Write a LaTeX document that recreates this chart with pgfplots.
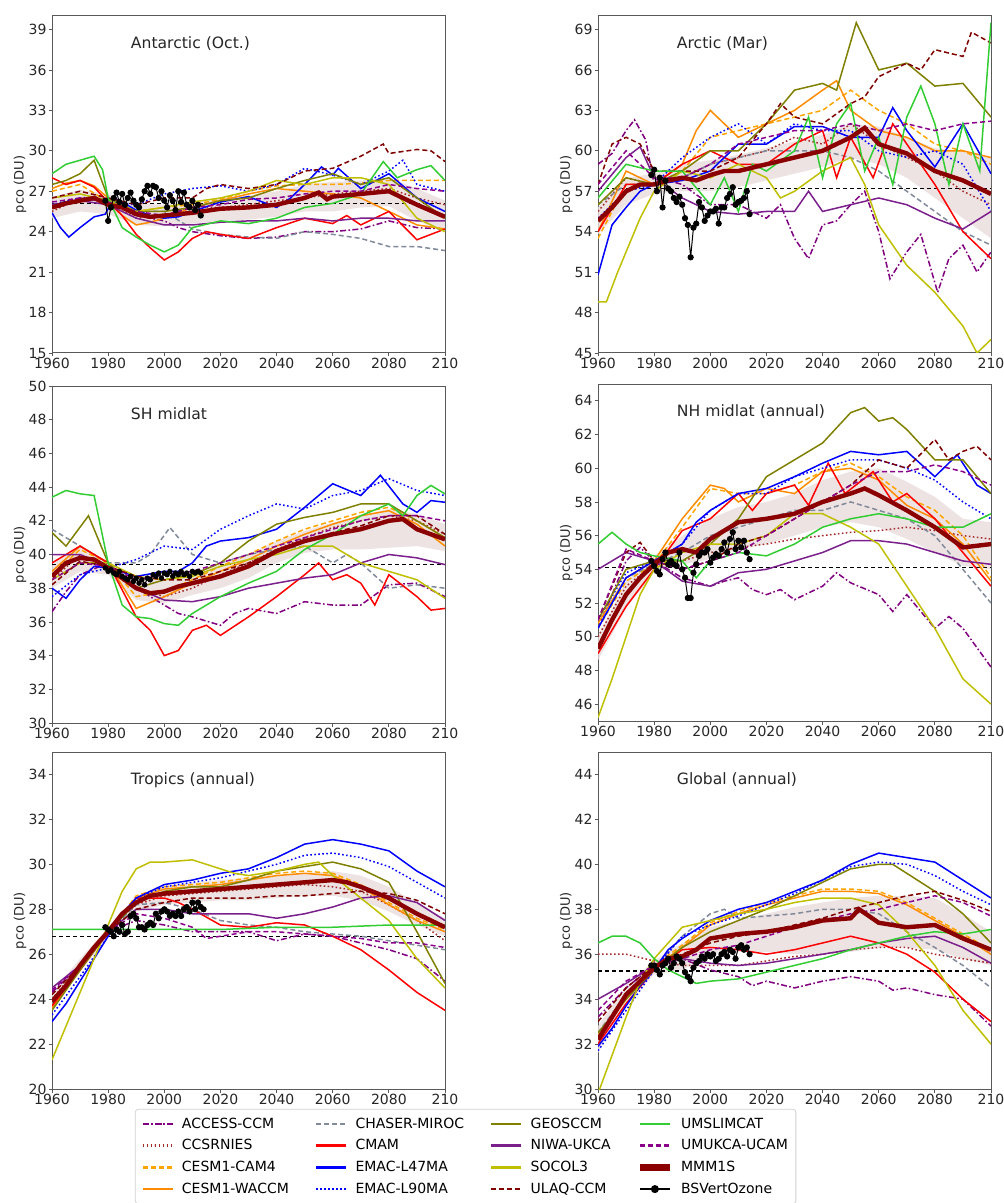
\documentclass[border=0pt]{standalone}
\usepackage{fontspec}
\setmainfont{DejaVu Sans}
\usepackage{pgfplots}
\pgfplotsset{compat=1.18}
\definecolor{mACC}{RGB}{128,0,128}
\definecolor{mCCS}{RGB}{165,42,42}
\definecolor{mCAM}{RGB}{255,165,0}
\definecolor{mWAC}{RGB}{255,140,0}
\definecolor{mCHA}{RGB}{128,138,154}
\definecolor{mCMAM}{RGB}{255,0,0}
\definecolor{mBLUE}{RGB}{0,0,255}
\definecolor{mGEOS}{RGB}{128,128,0}
\definecolor{mNIWA}{RGB}{123,31,140}
\definecolor{mSOC}{RGB}{191,191,0}
\definecolor{mULAQ}{RGB}{128,0,0}
\definecolor{mUMSL}{RGB}{50,205,50}
\definecolor{mUMUK}{RGB}{139,0,139}
\definecolor{mMMM}{RGB}{139,0,0}
\definecolor{mBAND}{RGB}{234,220,220}
\tikzset{
 ttl/.style={anchor=west, font=\fontsize{7.8}{9}\selectfont, text=black!85},
 lbase/.style={line width=0.75pt, mark=none},
 sACC/.style={lbase, color=mACC, dash pattern=on 3pt off 1.2pt on 0.8pt off 1.2pt},
 sCCS/.style={lbase, color=mCCS, dash pattern=on 0.8pt off 1.2pt},
 sCAM/.style={lbase, color=mCAM, dash pattern=on 2.5pt off 1.5pt},
 sWAC/.style={lbase, color=mWAC},
 sCHA/.style={lbase, color=mCHA, dash pattern=on 2.5pt off 1.5pt},
 sCMAM/.style={lbase, color=mCMAM},
 sL47/.style={lbase, color=mBLUE},
 sL90/.style={lbase, color=mBLUE, dash pattern=on 0.8pt off 1.2pt},
 sGEOS/.style={lbase, color=mGEOS},
 sNIWA/.style={lbase, color=mNIWA},
 sSOC/.style={lbase, color=mSOC},
 sULAQ/.style={lbase, color=mULAQ, dash pattern=on 2.5pt off 1.5pt},
 sUMSL/.style={lbase, color=mUMSL},
 sUMUK/.style={lbase, color=mUMUK, dash pattern=on 2.5pt off 1.5pt},
 sMMM/.style={color=mMMM, line width=2.2pt, mark=none},
 sOBS/.style={color=black, line width=0.5pt, mark=*, mark size=1.3pt},
 sBAND/.style={fill=mBAND, fill opacity=0.8, draw=none},
 sREF/.style={color=black, line width=0.6pt, dash pattern=on 2pt off 1.5pt},
 LW/.style={line width=1.3pt},
}
\pgfplotsset{
 panel/.style={
  scale only axis, width=196.5pt, height=168.5pt, anchor=north west,
  xmin=1960, xmax=2100, xtick={1960,1980,...,2100},
  xticklabels={1960,1980,2000,2020,2040,2060,2080,210},
  tick align=outside, tick pos=left, major tick length=1.75pt,
  every tick/.style={gray!70!black, line width=0.4pt},
  axis line style={gray!70!black, line width=0.5pt},
  ticklabel style={font=\fontsize{7}{8}\selectfont, text=black!85, inner sep=0.8pt},
  /pgf/number format/assume math mode=true,
  ylabel={pco (DU)},
  every axis y label/.style={at={(axis description cs:-0.081,0.5)}, rotate=90, anchor=center, font=\fontsize{6.5}{7}\selectfont, text=black!85},
  clip mode=individual,
 },
}
\begin{document}
\begin{tikzpicture}
% ---------------- Antarctic (Oct.)
\begin{axis}[panel, at={(26pt,-8pt)}, ymin=15, ymax=40, ytick={15,18,...,39}]
\addplot[sBAND, forget plot] coordinates {(1960,26.6)(1970,27.1)(1980,26.8)(1990,26.1)(2000,26.0)(2010,26.2)(2020,26.5)(2030,26.7)(2040,27.0)(2050,27.5)(2060,27.7)(2070,27.8)(2080,28.0)(2090,27.2)(2100,26.3)(2100,24.0)(2090,24.8)(2080,25.9)(2070,25.8)(2060,25.5)(2050,25.5)(2040,25.1)(2030,24.9)(2020,24.8)(2010,24.6)(2000,24.4)(1990,24.5)(1980,25.3)(1970,25.5)(1960,25.0)} --cycle;
\addplot[sREF, forget plot] coordinates {(1960,26.1)(2100,26.1)};
\addplot[sACC] coordinates {(1960,25.8)(1965,26.2)(1970,26.5)(1975,26.6)(1980,26.3)(1985,25.8)(1990,25.2)(1995,25.0)(2000,24.8)(2005,24.3)(2010,24.0)(2020,23.7)(2030,23.5)(2040,23.6)(2050,24.0)(2060,24.0)(2070,24.2)(2080,24.8)(2090,24.3)(2100,24.2)};
\addplot[sCCS] coordinates {(1960,25.5)(1970,26.5)(1980,26.3)(1990,25.0)(2000,25.2)(2010,25.8)(2020,25.8)(2030,26.0)(2040,26.3)(2050,26.5)(2060,26.8)(2070,27.0)(2080,27.2)(2090,26.5)(2100,26.0)};
\addplot[sCAM] coordinates {(1960,27.0)(1970,27.5)(1980,26.2)(1990,25.5)(2000,25.8)(2010,26.0)(2020,26.4)(2030,27.0)(2040,27.4)(2050,27.5)(2060,27.5)(2070,27.6)(2080,27.8)(2090,27.8)(2100,27.8)};
\addplot[sWAC] coordinates {(1960,27.2)(1965,27.6)(1970,27.8)(1975,27.4)(1980,26.5)(1985,25.2)(1990,24.5)(1995,24.7)(2000,25.0)(2010,25.8)(2020,26.3)(2030,26.8)(2040,27.2)(2050,27.0)(2060,26.8)(2070,26.5)(2080,25.5)(2090,24.5)(2100,24.2)};
\addplot[sCHA] coordinates {(1960,26.0)(1970,26.5)(1980,26.2)(1990,25.5)(2000,25.5)(2010,24.2)(2020,23.8)(2030,23.6)(2040,23.5)(2050,24.0)(2060,23.8)(2070,23.5)(2080,22.9)(2090,22.9)(2100,22.6)};
\addplot[sCMAM] coordinates {(1960,28.0)(1965,27.5)(1970,27.8)(1975,27.3)(1980,26.2)(1985,25.2)(1990,23.8)(1995,22.8)(2000,21.9)(2005,22.5)(2010,23.5)(2015,24.0)(2020,23.8)(2030,23.5)(2040,24.3)(2050,25.0)(2060,24.6)(2065,25.2)(2070,24.5)(2080,25.5)(2090,23.4)(2100,24.2)};
\addplot[sL47] coordinates {(1960,25.4)(1963,24.3)(1966,23.6)(1970,24.3)(1975,25.1)(1979,25.3)(1982,26.5)(1985,26.2)(1990,25.6)(1995,25.2)(2000,25.0)(2005,25.1)(2010,25.5)(2020,26.2)(2030,26.6)(2040,25.8)(2045,26.5)(2050,27.5)(2056,28.8)(2060,28.2)(2062,28.7)(2070,27.2)(2080,28.3)(2090,26.5)(2100,25.5)};
\addplot[sL90] coordinates {(1960,26.0)(1970,26.5)(1980,26.2)(1990,26.0)(2000,26.8)(2010,27.2)(2020,27.4)(2030,27.0)(2040,27.5)(2050,28.7)(2060,28.2)(2070,27.5)(2080,28.5)(2085,29.3)(2090,27.5)(2100,27.0)};
\addplot[sGEOS] coordinates {(1960,27.5)(1965,27.8)(1970,28.3)(1975,29.3)(1980,26.5)(1990,25.5)(2000,25.5)(2010,25.8)(2020,26.3)(2030,26.5)(2040,27.2)(2050,27.8)(2060,28.3)(2070,27.5)(2080,28.0)(2090,26.5)(2100,25.0)};
\addplot[sNIWA] coordinates {(1960,26.0)(1970,26.3)(1980,26.0)(1990,25.0)(2000,24.5)(2010,24.5)(2020,24.7)(2030,24.8)(2040,24.8)(2050,25.0)(2060,24.8)(2070,25.0)(2080,25.0)(2090,24.8)(2100,24.8)};
\addplot[sSOC] coordinates {(1960,26.5)(1970,26.8)(1980,26.3)(1990,25.5)(2000,25.8)(2010,26.2)(2020,26.5)(2030,27.0)(2040,27.8)(2050,27.5)(2060,28.0)(2070,28.0)(2080,27.5)(2090,25.0)(2100,24.0)};
\addplot[sULAQ] coordinates {(1960,26.5)(1970,27.0)(1980,26.5)(1990,26.0)(2000,26.5)(2010,26.5)(2015,27.2)(2020,27.5)(2030,27.2)(2040,27.5)(2050,28.5)(2060,28.7)(2070,29.6)(2078,30.5)(2080,29.8)(2090,30.1)(2095,30.0)(2100,29.2)};
\addplot[sUMSL] coordinates {(1960,28.3)(1965,29.0)(1970,29.3)(1975,29.6)(1978,28.6)(1980,26.5)(1985,24.3)(1990,23.6)(1995,23.0)(2000,22.5)(2005,23.0)(2010,24.3)(2020,24.8)(2030,24.6)(2040,25.0)(2050,25.8)(2060,26.1)(2070,26.8)(2078,29.2)(2083,28.0)(2090,28.6)(2095,28.9)(2100,27.8)};
\addplot[sUMUK] coordinates {(1960,26.2)(1970,26.5)(1980,26.2)(1990,25.5)(2000,25.2)(2010,25.8)(2020,26.0)(2030,26.4)(2040,26.5)(2050,26.8)(2060,27.0)(2070,27.0)(2080,27.5)(2090,27.2)(2100,27.0)};
\addplot[sMMM] coordinates {(1960,25.8)(1965,26.1)(1970,26.3)(1975,26.5)(1980,26.0)(1985,25.8)(1990,25.3)(1995,25.1)(2000,25.2)(2005,25.3)(2010,25.4)(2020,25.7)(2030,25.8)(2040,26.0)(2050,26.5)(2055,26.9)(2058,26.4)(2060,26.6)(2070,26.8)(2080,27.0)(2085,26.5)(2090,26.0)(2100,25.1)};
\addplot[sOBS] coordinates {(1979,26.3)(1980,24.8)(1981,25.8)(1982,26.5)(1983,26.9)(1984,26.2)(1985,26.8)(1986,26.0)(1987,26.5)(1988,26.9)(1989,26.3)(1990,26.0)(1991,25.8)(1992,26.4)(1993,27.0)(1994,27.4)(1995,26.8)(1996,27.4)(1997,27.3)(1998,26.5)(1999,27.0)(2000,26.3)(2001,25.8)(2002,26.7)(2003,26.3)(2004,25.6)(2005,27.0)(2006,26.2)(2007,26.9)(2008,26.0)(2009,25.8)(2010,26.3)(2011,25.6)(2012,26.0)(2013,25.2)};
\node[ttl] at (rel axis cs:0.183,0.917) {Antarctic (Oct.)};
\end{axis}
% ---------------- Arctic (Mar)
\begin{axis}[panel, at={(299pt,-8pt)}, ymin=45, ymax=70, ytick={45,48,...,69}]
\addplot[sBAND, forget plot] coordinates {(1960,55.8)(1970,58.0)(1980,58.3)(1990,59.0)(2000,59.3)(2010,59.7)(2020,60.2)(2030,60.7)(2040,61.2)(2050,62.0)(2060,61.8)(2070,61.0)(2080,60.2)(2090,60.0)(2100,59.5)(2100,53.5)(2090,55.0)(2080,56.5)(2070,58.0)(2060,59.0)(2050,59.5)(2040,58.8)(2030,58.3)(2020,57.8)(2010,57.3)(2000,57.0)(1990,57.0)(1980,56.8)(1970,56.0)(1960,53.8)} --cycle;
\addplot[sREF, forget plot] coordinates {(1960,57.2)(2100,57.2)};
\addplot[sACC] coordinates {(1960,59.0)(1965,59.8)(1970,61.5)(1973,62.3)(1977,60.8)(1980,57.5)(1985,57.8)(1990,57.5)(2000,56.0)(2010,56.0)(2020,55.0)(2025,56.0)(2030,53.5)(2035,52.0)(2040,54.5)(2045,54.8)(2050,56.0)(2055,57.0)(2060,54.0)(2064,50.5)(2070,52.5)(2075,53.8)(2081,49.5)(2085,52.0)(2090,53.0)(2095,51.0)(2100,52.5)};
\addplot[sCCS] coordinates {(1960,55.5)(1970,58.0)(1980,57.5)(1990,58.0)(2000,59.0)(2010,59.5)(2020,60.0)(2030,61.0)(2040,60.5)(2050,62.0)(2060,60.5)(2070,59.5)(2080,58.5)(2090,57.0)(2100,56.0)};
\addplot[sCAM] coordinates {(1960,53.5)(1970,57.5)(1980,57.5)(1990,58.5)(2000,61.0)(2010,61.5)(2020,62.0)(2030,62.5)(2040,63.0)(2050,64.5)(2060,63.0)(2070,62.0)(2080,60.5)(2090,60.0)(2100,59.0)};
\addplot[sWAC] coordinates {(1960,54.0)(1970,58.5)(1980,57.5)(1990,59.0)(1995,61.5)(2000,63.0)(2005,62.0)(2010,61.0)(2020,62.0)(2030,63.0)(2040,64.5)(2045,65.2)(2050,63.0)(2060,61.5)(2070,61.0)(2080,60.0)(2090,60.0)(2100,59.5)};
\addplot[sCHA] coordinates {(1960,56.0)(1970,57.5)(1980,57.5)(1990,58.0)(2000,59.0)(2010,59.5)(2020,60.0)(2030,60.0)(2040,60.0)(2050,59.5)(2060,58.5)(2070,57.0)(2080,55.5)(2090,54.0)(2100,53.0)};
\addplot[sCMAM] coordinates {(1960,54.0)(1970,57.5)(1980,57.5)(1990,59.0)(2000,60.0)(2010,59.0)(2020,59.0)(2030,60.5)(2040,61.5)(2045,58.0)(2050,61.0)(2058,58.0)(2065,62.0)(2070,60.5)(2080,57.5)(2090,54.0)(2100,52.0)};
\addplot[sL47] coordinates {(1960,50.8)(1965,54.5)(1970,55.8)(1975,57.0)(1980,57.5)(1990,57.8)(2000,58.5)(2010,60.5)(2020,60.5)(2030,61.8)(2040,61.8)(2050,61.0)(2060,61.0)(2065,63.2)(2070,61.5)(2080,58.8)(2090,62.0)(2100,58.3)};
\addplot[sL90] coordinates {(1960,55.0)(1970,57.0)(1980,57.5)(1990,59.5)(2000,61.0)(2010,62.0)(2020,60.5)(2030,62.0)(2040,61.5)(2050,61.5)(2060,60.0)(2070,59.5)(2080,60.0)(2090,59.0)(2100,55.5)};
\addplot[sGEOS] coordinates {(1960,56.0)(1970,58.0)(1980,57.5)(1990,58.5)(2000,60.0)(2010,60.0)(2020,62.0)(2030,64.5)(2040,65.0)(2045,64.5)(2052,69.5)(2060,66.0)(2070,66.5)(2080,64.8)(2090,65.0)(2100,62.5)};
\addplot[sNIWA] coordinates {(1960,57.0)(1970,59.5)(1975,60.3)(1980,58.0)(1990,56.5)(2000,55.5)(2010,55.3)(2020,55.5)(2030,55.5)(2035,57.0)(2040,55.5)(2050,56.0)(2060,56.5)(2070,56.0)(2080,55.0)(2090,54.2)(2100,55.5)};
\addplot[sSOC] coordinates {(1960,48.8)(1963,48.8)(1967,51.0)(1970,52.5)(1975,55.0)(1980,57.0)(1990,58.5)(2000,58.0)(2010,59.0)(2020,58.0)(2025,56.5)(2030,57.0)(2040,58.5)(2050,59.5)(2055,57.5)(2060,54.5)(2070,51.5)(2080,49.5)(2090,47.0)(2095,45.0)(2100,46.0)};
\addplot[sULAQ] coordinates {(1960,57.5)(1965,60.5)(1970,61.0)(1975,60.5)(1980,58.5)(1990,58.5)(2000,58.5)(2010,59.5)(2020,62.0)(2025,63.5)(2030,62.5)(2040,62.0)(2050,63.5)(2055,64.0)(2060,65.5)(2070,66.5)(2075,66.0)(2080,67.5)(2090,67.0)(2093,68.8)(2100,68.0)};
\addplot[sUMSL] coordinates {(1960,56.5)(1970,59.0)(1980,58.5)(1990,58.5)(2000,56.0)(2005,58.0)(2010,55.5)(2015,59.0)(2020,58.5)(2030,60.0)(2035,62.5)(2040,58.0)(2045,62.0)(2050,63.5)(2055,58.5)(2060,61.0)(2065,57.5)(2070,62.5)(2075,64.8)(2080,62.0)(2085,57.5)(2090,62.0)(2096,58.5)(2100,69.5)};
\addplot[sUMUK] coordinates {(1960,57.5)(1970,60.0)(1980,58.0)(1990,58.0)(2000,59.0)(2010,60.5)(2020,61.0)(2030,61.5)(2040,61.5)(2050,62.0)(2060,61.5)(2070,62.0)(2080,61.5)(2090,62.0)(2100,62.2)};
\addplot[sMMM] coordinates {(1960,54.8)(1965,55.8)(1970,57.0)(1975,57.5)(1980,57.5)(1985,57.8)(1990,58.0)(1995,57.8)(2000,58.2)(2005,58.5)(2010,58.5)(2020,59.0)(2030,59.5)(2040,60.0)(2050,61.0)(2055,61.7)(2060,60.5)(2070,59.8)(2080,58.5)(2090,57.8)(2100,56.8)};
\addplot[sOBS] coordinates {(1979,58.2)(1980,58.6)(1981,57.0)(1982,58.0)(1983,55.8)(1984,57.8)(1985,57.2)(1986,57.0)(1987,56.5)(1988,56.2)(1989,56.6)(1990,56.0)(1991,55.0)(1992,54.5)(1993,52.1)(1994,54.3)(1995,54.6)(1996,56.2)(1997,55.8)(1998,54.8)(1999,55.2)(2000,55.5)(2001,55.5)(2002,55.7)(2003,54.6)(2004,55.8)(2005,55.8)(2006,56.5)(2007,56.8)(2008,57.3)(2009,56.0)(2010,56.2)(2011,56.3)(2012,56.5)(2013,57.0)(2014,55.3)};
\node[ttl] at (rel axis cs:0.183,0.917) {Arctic (Mar)};
\end{axis}
% ---------------- SH midlat
\begin{axis}[panel, at={(26pt,-193pt)}, ymin=30, ymax=50, ytick={30,32,...,50}]
\addplot[sBAND, forget plot] coordinates {(1960,39.4)(1970,40.5)(1980,39.6)(1990,38.7)(2000,38.5)(2010,39.0)(2020,39.4)(2030,40.0)(2040,40.8)(2050,41.4)(2060,41.9)(2070,42.3)(2080,42.7)(2090,42.4)(2100,41.8)(2100,40.2)(2090,40.5)(2080,40.4)(2070,40.3)(2060,40.3)(2050,40.1)(2040,39.5)(2030,38.6)(2020,38.0)(2010,37.6)(2000,37.1)(1990,37.3)(1980,38.8)(1970,39.0)(1960,38.0)} --cycle;
\addplot[sREF, forget plot] coordinates {(1960,39.4)(2100,39.4)};
\addplot[sACC] coordinates {(1960,36.6)(1965,37.8)(1970,38.8)(1980,39.5)(1990,38.0)(2000,37.0)(2005,36.5)(2010,36.3)(2020,35.8)(2025,36.5)(2030,36.8)(2040,36.5)(2050,37.2)(2060,37.0)(2070,37.0)(2080,38.2)(2090,38.3)(2100,37.5)};
\addplot[sCCS] coordinates {(1960,38.5)(1970,40.0)(1980,39.3)(1990,38.0)(2000,37.5)(2010,38.0)(2020,38.8)(2030,39.5)(2040,40.3)(2050,41.0)(2060,41.6)(2070,42.0)(2080,42.3)(2090,42.0)(2100,41.2)};
\addplot[sCAM] coordinates {(1960,38.8)(1970,40.3)(1980,39.5)(1990,37.5)(2000,37.8)(2010,38.5)(2020,39.3)(2030,40.0)(2040,40.8)(2050,41.5)(2060,42.0)(2070,42.5)(2080,42.8)(2090,42.0)(2100,41.0)};
\addplot[sWAC] coordinates {(1960,39.0)(1970,40.5)(1980,39.5)(1990,36.8)(2000,37.5)(2010,38.3)(2020,39.0)(2030,39.7)(2040,40.5)(2050,41.2)(2060,41.8)(2070,42.3)(2080,42.6)(2090,41.8)(2100,40.5)};
\addplot[sCHA] coordinates {(1960,41.5)(1970,40.5)(1980,39.5)(1990,39.5)(1995,40.0)(2002,41.6)(2010,40.0)(2020,39.5)(2030,40.0)(2040,40.3)(2050,40.5)(2060,39.5)(2065,40.0)(2070,39.5)(2080,38.0)(2090,38.2)(2100,38.0)};
\addplot[sCMAM] coordinates {(1960,39.5)(1970,40.5)(1980,39.5)(1990,36.3)(1995,35.5)(2000,34.0)(2005,34.3)(2010,35.5)(2015,35.8)(2020,35.2)(2030,36.3)(2040,37.5)(2050,38.8)(2055,39.5)(2060,38.5)(2065,38.8)(2070,38.3)(2075,37.0)(2080,38.8)(2090,37.5)(2095,36.7)(2100,36.8)};
\addplot[sL47] coordinates {(1960,38.0)(1965,37.4)(1970,38.5)(1975,39.3)(1980,39.2)(1990,38.7)(2000,39.0)(2005,39.0)(2010,39.5)(2015,40.5)(2020,40.8)(2030,41.0)(2040,41.5)(2050,42.8)(2060,44.2)(2070,43.5)(2077,44.7)(2085,43.0)(2090,42.5)(2095,43.2)(2100,43.1)};
\addplot[sL90] coordinates {(1960,37.5)(1970,38.8)(1980,39.2)(1990,39.7)(2000,40.5)(2010,40.3)(2020,41.5)(2030,42.3)(2040,43.0)(2050,42.7)(2060,43.5)(2070,43.8)(2080,44.5)(2090,43.8)(2100,43.5)};
\addplot[sGEOS] coordinates {(1960,41.3)(1965,40.5)(1973,42.3)(1980,39.5)(1990,38.0)(2000,38.5)(2010,38.8)(2020,39.5)(2030,40.8)(2040,41.8)(2050,42.2)(2060,42.5)(2070,43.0)(2080,43.0)(2090,42.0)(2100,41.0)};
\addplot[sNIWA] coordinates {(1960,40.0)(1970,40.0)(1980,39.3)(1990,38.0)(2000,37.3)(2010,37.2)(2020,37.5)(2030,38.0)(2040,38.3)(2050,38.6)(2060,38.8)(2070,39.5)(2080,40.0)(2090,39.8)(2100,39.4)};
\addplot[sSOC] coordinates {(1960,38.5)(1970,39.5)(1980,39.5)(1990,38.7)(2000,38.5)(2010,38.7)(2020,39.3)(2030,39.7)(2040,40.0)(2050,40.5)(2060,40.5)(2070,39.5)(2080,39.0)(2090,38.5)(2100,37.4)};
\addplot[sULAQ] coordinates {(1960,38.2)(1970,39.6)(1980,39.3)(1990,38.7)(2000,38.5)(2010,38.5)(2020,39.0)(2030,39.5)(2040,40.2)(2050,40.8)(2060,41.3)(2070,41.7)(2080,42.3)(2090,42.3)(2100,41.2)};
\addplot[sUMSL] coordinates {(1960,43.4)(1965,43.8)(1970,43.6)(1975,43.5)(1980,39.5)(1985,37.0)(1990,36.3)(1995,36.2)(2000,35.9)(2005,35.8)(2010,36.5)(2020,37.5)(2030,38.3)(2040,39.0)(2050,40.3)(2060,41.2)(2070,42.3)(2080,43.0)(2085,42.3)(2090,43.5)(2095,44.1)(2100,43.6)};
\addplot[sUMUK] coordinates {(1960,38.5)(1970,39.5)(1980,39.3)(1990,38.5)(2000,38.8)(2010,39.0)(2020,39.5)(2030,40.0)(2040,40.5)(2050,41.0)(2060,41.5)(2070,42.0)(2080,42.3)(2090,42.3)(2100,42.0)};
\addplot[sMMM] coordinates {(1960,38.7)(1965,39.5)(1970,39.8)(1975,39.7)(1980,39.2)(1985,38.6)(1990,38.0)(1995,37.7)(2000,37.8)(2005,38.1)(2010,38.3)(2020,38.7)(2030,39.3)(2040,40.2)(2050,40.8)(2060,41.2)(2070,41.5)(2080,42.0)(2085,42.1)(2090,41.5)(2100,40.9)};
\addplot[sOBS, mark size=1.1pt] coordinates {(1979,39.2)(1980,39.0)(1981,39.1)(1982,38.9)(1983,38.8)(1984,39.0)(1985,38.7)(1986,38.6)(1987,38.5)(1988,38.7)(1989,38.4)(1990,38.6)(1991,38.3)(1992,38.5)(1993,38.2)(1994,38.6)(1995,38.5)(1996,38.8)(1997,38.7)(1998,38.9)(1999,38.6)(2000,38.9)(2001,38.8)(2002,39.0)(2003,38.7)(2004,38.9)(2005,38.8)(2006,39.0)(2007,38.8)(2008,38.9)(2009,38.7)(2010,39.0)(2011,38.9)(2012,39.0)(2013,38.9)};
\node[ttl] at (rel axis cs:0.183,0.917) {SH midlat};
\end{axis}
% ---------------- NH midlat (annual)
\begin{axis}[panel, at={(299pt,-192pt)}, ymin=45, ymax=65, ytick={46,48,...,64}]
\addplot[sBAND, forget plot] coordinates {(1960,50.0)(1970,53.3)(1980,54.8)(1990,56.0)(2000,57.0)(2010,57.7)(2020,58.0)(2030,58.5)(2040,59.3)(2050,59.8)(2060,60.0)(2070,59.2)(2080,58.3)(2090,57.0)(2100,56.8)(2100,54.0)(2090,54.2)(2080,55.0)(2070,55.8)(2060,56.5)(2050,56.8)(2040,56.5)(2030,56.0)(2020,55.5)(2010,55.2)(2000,54.6)(1990,54.3)(1980,53.8)(1970,51.7)(1960,48.6)} --cycle;
\addplot[sREF, forget plot] coordinates {(1960,54.1)(2100,54.1)};
\addplot[sACC] coordinates {(1960,50.5)(1965,52.5)(1970,54.5)(1975,55.3)(1980,54.5)(1990,53.5)(2000,53.0)(2005,53.3)(2010,53.5)(2015,52.8)(2020,52.5)(2025,52.8)(2030,52.2)(2040,53.0)(2045,53.8)(2050,53.2)(2060,52.5)(2065,51.5)(2070,52.5)(2080,50.5)(2085,51.2)(2090,50.5)(2100,48.2)};
\addplot[sCCS] coordinates {(1960,50.0)(1970,53.0)(1980,54.3)(1990,54.5)(2000,55.0)(2010,55.3)(2020,55.5)(2030,55.8)(2040,56.0)(2050,56.2)(2060,56.3)(2070,56.5)(2080,56.3)(2090,56.0)(2100,55.8)};
\addplot[sCAM] coordinates {(1960,50.5)(1970,53.3)(1980,54.3)(1990,56.5)(2000,58.8)(2010,58.5)(2020,58.5)(2030,59.0)(2040,59.8)(2050,60.3)(2060,59.5)(2070,58.3)(2080,57.5)(2090,56.0)(2100,53.5)};
\addplot[sWAC] coordinates {(1960,50.8)(1970,53.5)(1980,54.5)(1990,57.0)(2000,59.0)(2005,58.8)(2010,58.0)(2020,58.8)(2030,58.5)(2040,59.8)(2050,60.0)(2060,59.3)(2070,57.8)(2080,57.0)(2090,55.5)(2100,53.3)};
\addplot[sCHA] coordinates {(1960,50.5)(1970,53.5)(1980,54.3)(1990,55.0)(2000,56.0)(2010,56.5)(2020,57.0)(2030,57.5)(2040,57.5)(2050,58.0)(2060,57.5)(2070,57.0)(2080,56.0)(2090,54.0)(2100,52.0)};
\addplot[sCMAM] coordinates {(1960,49.0)(1970,51.8)(1980,54.0)(1990,56.3)(2000,57.0)(2010,58.5)(2015,57.5)(2020,58.5)(2030,59.0)(2035,57.8)(2042,60.3)(2048,58.5)(2058,59.8)(2065,58.0)(2070,58.5)(2080,57.0)(2090,55.0)(2100,53.0)};
\addplot[sL47] coordinates {(1960,50.5)(1970,53.5)(1980,54.5)(1990,55.5)(1995,56.8)(2000,57.5)(2010,58.5)(2020,58.8)(2030,59.5)(2040,60.3)(2050,61.0)(2060,60.8)(2070,61.0)(2080,59.5)(2088,60.8)(2095,59.0)(2100,58.5)};
\addplot[sL90] coordinates {(1960,51.0)(1970,53.8)(1980,54.5)(1990,55.5)(2000,57.5)(2010,58.5)(2020,58.5)(2030,59.5)(2040,60.0)(2050,60.5)(2060,60.5)(2070,60.0)(2080,59.3)(2090,58.0)(2100,57.0)};
\addplot[sGEOS] coordinates {(1960,51.0)(1970,54.0)(1980,54.5)(1990,54.5)(2000,55.5)(2010,57.0)(2020,59.5)(2030,60.5)(2040,61.5)(2050,63.3)(2055,63.6)(2060,62.8)(2065,63.0)(2070,62.3)(2080,60.5)(2090,60.5)(2100,58.5)};
\addplot[sNIWA] coordinates {(1960,54.0)(1970,55.0)(1980,54.5)(1990,53.3)(2000,53.0)(2010,53.8)(2020,54.0)(2030,54.5)(2040,55.0)(2050,55.7)(2060,55.7)(2070,55.5)(2080,55.0)(2090,54.5)(2100,54.3)};
\addplot[sSOC] coordinates {(1960,45.2)(1965,47.5)(1970,50.0)(1975,52.5)(1980,54.0)(1990,55.0)(2000,55.5)(2010,55.5)(2020,56.0)(2030,57.3)(2040,57.3)(2050,56.5)(2060,55.5)(2070,53.0)(2080,50.5)(2090,47.5)(2100,46.0)};
\addplot[sULAQ] coordinates {(1960,51.0)(1970,55.0)(1975,55.6)(1980,54.5)(1990,54.0)(2000,54.5)(2010,55.5)(2020,56.0)(2030,57.0)(2040,58.0)(2050,59.0)(2060,60.5)(2070,60.0)(2080,61.7)(2085,60.5)(2090,61.0)(2095,61.3)(2100,60.5)};
\addplot[sUMSL] coordinates {(1960,55.5)(1965,56.2)(1970,55.5)(1975,55.0)(1980,54.8)(1990,54.5)(1995,53.5)(2000,54.5)(2010,55.0)(2020,54.8)(2030,55.5)(2040,56.5)(2050,57.0)(2060,57.3)(2070,57.0)(2080,56.5)(2090,56.5)(2100,57.3)};
\addplot[sUMUK] coordinates {(1960,51.0)(1970,55.2)(1980,54.5)(1990,54.0)(2000,54.5)(2010,55.0)(2020,56.0)(2030,57.0)(2040,58.0)(2050,59.0)(2060,59.8)(2070,59.8)(2080,60.2)(2090,59.8)(2100,59.0)};
\addplot[sMMM] coordinates {(1960,49.3)(1965,51.0)(1970,52.5)(1975,53.5)(1980,54.3)(1985,55.0)(1990,55.2)(1995,55.0)(2000,55.8)(2005,56.3)(2010,56.8)(2020,57.0)(2030,57.3)(2040,58.0)(2050,58.5)(2055,58.8)(2060,58.4)(2070,57.5)(2080,56.5)(2090,55.3)(2100,55.5)};
\addplot[sOBS] coordinates {(1979,54.5)(1980,54.2)(1981,53.9)(1982,53.7)(1983,54.6)(1984,55.0)(1985,54.3)(1986,54.5)(1987,54.3)(1988,54.2)(1989,55.0)(1990,54.0)(1991,53.5)(1992,52.3)(1993,52.3)(1994,53.8)(1995,54.3)(1996,54.8)(1997,55.0)(1998,55.0)(1999,55.2)(2000,54.4)(2001,54.7)(2002,54.9)(2003,54.8)(2004,55.2)(2005,55.6)(2006,55.0)(2007,55.8)(2008,56.2)(2009,55.2)(2010,55.7)(2011,55.3)(2012,55.7)(2013,55.0)(2014,54.6)};
\node[ttl] at (rel axis cs:0.183,0.917) {NH midlat (annual)};
\end{axis}
% ---------------- Tropics (annual)
\begin{axis}[panel, at={(26pt,-376pt)}, ymin=20, ymax=35, ytick={20,22,...,34},
 legend columns=4,
 legend style={at={(axis description cs:0.211,-0.059)}, anchor=north west,
  draw=gray!35, rounded corners=1.5pt, fill=white, inner sep=3pt,
  font=\fontsize{7}{8}\selectfont,
  nodes={inner sep=1pt, text height=5.5pt, text depth=1.2pt},
  /tikz/column sep=3pt, row sep=2.15pt,
  /tikz/every even column/.append style={column sep=12pt}},
 legend cell align=left,
 legend image code/.code={\draw[mark repeat=2,mark phase=2,#1] plot coordinates {(0pt,0pt)(7.5pt,0pt)(15pt,0pt)};}]
\addplot[sBAND, forget plot] coordinates {(1960,24.3)(1970,25.8)(1980,27.2)(1990,28.6)(2000,29.0)(2010,29.2)(2020,29.3)(2030,29.4)(2040,29.5)(2050,29.6)(2060,29.7)(2070,29.5)(2080,29.0)(2090,28.3)(2100,27.6)(2100,26.8)(2090,27.3)(2080,27.9)(2070,28.4)(2060,28.6)(2050,28.6)(2040,28.5)(2030,28.4)(2020,28.4)(2010,28.3)(2000,28.2)(1990,27.9)(1980,26.8)(1970,25.2)(1960,23.5)} --cycle;
\addplot[sREF, forget plot] coordinates {(1960,26.8)(2100,26.8)};
\addplot[sACC, forget plot] coordinates {(1960,24.3)(1970,25.5)(1980,27.0)(1990,27.5)(2000,27.3)(2010,27.0)(2020,27.0)(2030,27.0)(2040,26.6)(2050,26.9)(2060,26.8)(2070,26.5)(2080,26.2)(2090,25.8)(2100,24.8)};
\addplot[sCCS, forget plot] coordinates {(1960,24.0)(1970,25.5)(1980,27.0)(1990,28.2)(2000,28.6)(2010,28.7)(2020,28.8)(2030,28.9)(2040,29.0)(2050,29.1)(2060,29.0)(2070,28.8)(2080,28.2)(2090,27.5)(2100,26.6)};
\addplot[sCAM, forget plot] coordinates {(1960,23.7)(1970,25.4)(1980,27.0)(1990,28.6)(2000,29.0)(2010,29.1)(2020,29.2)(2030,29.4)(2040,29.6)(2050,29.7)(2060,29.6)(2070,29.1)(2080,28.3)(2090,27.6)(2100,27.1)};
\addplot[sWAC, forget plot] coordinates {(1960,23.6)(1970,25.3)(1980,27.0)(1990,28.5)(2000,28.9)(2010,29.0)(2020,29.1)(2030,29.3)(2040,29.5)(2050,29.6)(2060,29.5)(2070,29.0)(2080,28.2)(2090,27.5)(2100,27.0)};
\addplot[sCHA, forget plot] coordinates {(1960,23.8)(1970,25.3)(1980,27.0)(1990,28.2)(2000,28.3)(2010,28.0)(2020,27.5)(2030,27.3)(2040,27.2)(2050,27.0)(2060,26.9)(2070,26.8)(2080,26.6)(2090,26.4)(2100,26.2)};
\addplot[sCMAM, forget plot] coordinates {(1960,23.7)(1970,25.3)(1980,27.0)(1990,28.5)(2000,28.5)(2005,28.3)(2010,28.0)(2020,27.3)(2030,27.2)(2040,27.4)(2050,27.3)(2060,26.8)(2070,26.2)(2080,25.3)(2090,24.3)(2100,23.5)};
\addplot[sL47, forget plot] coordinates {(1960,23.0)(1965,23.8)(1970,24.8)(1975,25.8)(1980,26.8)(1985,27.8)(1990,28.5)(2000,29.1)(2010,29.3)(2020,29.6)(2030,29.8)(2040,30.3)(2050,30.9)(2060,31.1)(2070,30.9)(2080,30.6)(2090,29.7)(2100,29.0)};
\addplot[sL90, forget plot] coordinates {(1960,23.3)(1970,25.0)(1980,26.8)(1990,28.5)(2000,29.0)(2010,29.2)(2020,29.4)(2030,29.7)(2040,30.0)(2050,30.4)(2060,30.5)(2070,30.3)(2080,29.9)(2090,29.2)(2100,28.5)};
\addplot[sGEOS, forget plot] coordinates {(1960,23.5)(1970,25.3)(1980,27.0)(1990,28.3)(2000,28.8)(2010,29.0)(2020,29.0)(2030,29.3)(2040,29.7)(2050,29.9)(2060,30.1)(2070,29.8)(2080,29.2)(2090,27.0)(2100,24.7)};
\addplot[sNIWA, forget plot] coordinates {(1960,24.5)(1970,25.5)(1980,27.0)(1990,28.0)(2000,28.0)(2010,27.8)(2020,27.8)(2030,27.8)(2040,27.6)(2050,27.8)(2060,28.1)(2070,28.5)(2080,28.6)(2090,28.3)(2100,27.5)};
\addplot[sSOC, forget plot] coordinates {(1960,21.3)(1965,22.8)(1970,24.3)(1975,25.8)(1980,27.3)(1985,28.8)(1990,29.8)(1995,30.1)(2000,30.1)(2010,30.2)(2020,29.8)(2025,29.6)(2030,29.5)(2040,29.7)(2050,30.0)(2055,30.1)(2060,29.5)(2070,28.5)(2080,27.5)(2090,25.8)(2100,24.5)};
\addplot[sULAQ, forget plot] coordinates {(1960,24.2)(1970,25.5)(1980,27.0)(1990,28.0)(2000,28.3)(2010,28.5)(2020,28.5)(2030,28.5)(2040,28.6)(2050,28.6)(2060,28.7)(2070,28.8)(2080,28.7)(2090,28.4)(2100,27.8)};
\addplot[sUMSL, forget plot] coordinates {(1960,27.1)(1980,27.1)(2000,27.1)(2020,27.1)(2040,27.2)(2060,27.2)(2080,27.3)(2100,27.3)};
\addplot[sUMUK, forget plot] coordinates {(1960,24.4)(1970,25.5)(1980,27.0)(1990,27.8)(2000,27.6)(2010,27.2)(2015,26.7)(2020,26.8)(2030,27.0)(2040,27.0)(2050,26.9)(2060,26.8)(2070,26.7)(2080,26.5)(2090,26.5)(2100,26.3)};
\addplot[sMMM, forget plot] coordinates {(1960,23.9)(1965,24.6)(1970,25.5)(1975,26.3)(1980,27.0)(1985,27.8)(1990,28.3)(1995,28.6)(2000,28.7)(2010,28.8)(2020,28.9)(2030,29.0)(2040,29.1)(2050,29.2)(2060,29.3)(2065,29.2)(2070,29.0)(2080,28.5)(2090,27.8)(2100,27.2)};
\addplot[sOBS, forget plot] coordinates {(1979,27.2)(1980,27.1)(1981,27.0)(1982,26.8)(1983,27.1)(1984,27.0)(1985,27.3)(1986,26.9)(1987,27.0)(1988,27.7)(1989,27.8)(1990,27.6)(1991,27.2)(1992,27.2)(1993,27.1)(1994,27.3)(1995,27.4)(1996,27.3)(1997,27.8)(1998,27.6)(1999,27.9)(2000,28.0)(2001,27.9)(2002,27.7)(2003,27.8)(2004,27.7)(2005,27.9)(2006,27.7)(2007,28.0)(2008,28.1)(2009,27.9)(2010,28.3)(2011,28.0)(2012,28.3)(2013,28.1)(2014,28.0)};
\addlegendimage{sACC, LW}\addlegendentry{ACCESS-CCM}
\addlegendimage{sCHA, LW}\addlegendentry{CHASER-MIROC}
\addlegendimage{sGEOS, LW}\addlegendentry{GEOSCCM}
\addlegendimage{sUMSL, LW}\addlegendentry{UMSLIMCAT}
\addlegendimage{sCCS, LW}\addlegendentry{CCSRNIES}
\addlegendimage{sCMAM, LW}\addlegendentry{CMAM}
\addlegendimage{sNIWA, LW}\addlegendentry{NIWA-UKCA}
\addlegendimage{sUMUK, LW}\addlegendentry{UMUKCA-UCAM}
\addlegendimage{sCAM, LW}\addlegendentry{CESM1-CAM4}
\addlegendimage{sL47, LW}\addlegendentry{EMAC-L47MA}
\addlegendimage{sSOC, LW}\addlegendentry{SOCOL3}
\addlegendimage{sMMM, line width=3.2pt}\addlegendentry{MMM1S}
\addlegendimage{sWAC, LW}\addlegendentry{CESM1-WACCM}
\addlegendimage{sL90, LW}\addlegendentry{EMAC-L90MA}
\addlegendimage{sULAQ, LW}\addlegendentry{ULAQ-CCM}
\addlegendimage{sOBS, line width=0.8pt, mark size=1.6pt}\addlegendentry{BSVertOzone}
\node[ttl] at (rel axis cs:0.183,0.917) {Tropics (annual)};
\end{axis}
% ---------------- Global (annual)
\begin{axis}[panel, at={(299pt,-376pt)}, ymin=30, ymax=45, ytick={30,32,...,44}]
\addplot[sBAND, forget plot] coordinates {(1960,32.8)(1970,34.6)(1980,35.7)(1990,36.5)(2000,37.2)(2010,37.5)(2020,37.8)(2030,38.1)(2040,38.3)(2050,38.5)(2060,38.6)(2070,38.6)(2080,38.5)(2090,37.8)(2100,37.0)(2100,35.5)(2090,35.8)(2080,36.2)(2070,36.3)(2060,36.3)(2050,36.1)(2040,36.0)(2030,36.0)(2020,36.1)(2010,36.1)(2000,36.0)(1990,35.3)(1980,35.1)(1970,33.8)(1960,31.6)} --cycle;
\addplot[sREF, forget plot] coordinates {(1960,35.25)(2100,35.25)};
\addplot[sACC] coordinates {(1960,33.2)(1970,34.5)(1980,35.5)(1990,35.8)(2000,35.3)(2010,35.0)(2015,34.6)(2020,34.8)(2030,34.5)(2040,34.8)(2050,35.0)(2060,34.8)(2065,34.4)(2070,34.5)(2080,34.2)(2090,34.0)(2100,32.8)};
\addplot[sCCS] coordinates {(1960,36.0)(1970,36.0)(1980,35.7)(1990,35.5)(2000,35.5)(2010,35.5)(2020,35.7)(2030,35.9)(2040,36.0)(2050,36.2)(2060,36.3)(2070,36.3)(2080,36.0)(2090,35.8)(2100,35.6)};
\addplot[sCAM] coordinates {(1960,32.4)(1970,34.1)(1980,35.5)(1990,36.4)(2000,37.4)(2010,37.9)(2020,38.3)(2030,38.6)(2040,38.9)(2050,38.9)(2060,38.8)(2070,38.3)(2080,37.6)(2090,36.9)(2100,36.2)};
\addplot[sWAC] coordinates {(1960,32.3)(1970,34.0)(1980,35.4)(1990,36.3)(2000,37.3)(2010,37.8)(2020,38.2)(2030,38.5)(2040,38.8)(2050,38.8)(2060,38.7)(2070,38.2)(2080,37.5)(2090,36.8)(2100,36.0)};
\addplot[sCHA] coordinates {(1960,32.5)(1970,34.2)(1980,35.4)(1990,36.8)(2000,37.8)(2005,38.0)(2010,37.6)(2020,37.7)(2030,37.8)(2040,38.0)(2050,38.0)(2060,37.8)(2070,37.0)(2080,36.3)(2090,35.5)(2100,34.5)};
\addplot[sCMAM] coordinates {(1960,32.0)(1970,33.8)(1980,35.3)(1990,36.2)(2000,36.3)(2010,36.2)(2020,36.0)(2030,36.2)(2040,36.5)(2050,36.8)(2060,36.5)(2070,36.0)(2080,35.2)(2090,34.0)(2100,33.0)};
\addplot[sL47] coordinates {(1960,31.9)(1965,32.7)(1970,33.7)(1975,34.6)(1980,35.3)(1985,36.2)(1990,36.7)(2000,37.5)(2010,38.0)(2020,38.3)(2030,38.8)(2040,39.3)(2050,40.0)(2060,40.5)(2070,40.3)(2080,40.1)(2090,39.3)(2100,38.5)};
\addplot[sL90] coordinates {(1960,31.7)(1970,33.5)(1980,35.3)(1990,36.8)(2000,37.3)(2010,37.7)(2020,38.2)(2030,38.7)(2040,39.3)(2050,39.9)(2060,40.1)(2070,40.0)(2080,39.5)(2090,38.8)(2100,38.2)};
\addplot[sGEOS] coordinates {(1960,32.5)(1970,34.0)(1980,35.3)(1990,36.3)(2000,37.0)(2010,37.5)(2020,38.0)(2030,38.6)(2040,39.2)(2050,39.8)(2060,40.0)(2065,40.0)(2070,39.6)(2080,38.8)(2090,37.8)(2100,36.5)};
\addplot[sNIWA] coordinates {(1960,34.0)(1970,34.7)(1980,35.5)(1990,35.8)(2000,35.6)(2010,35.5)(2020,35.6)(2030,35.8)(2040,36.0)(2050,36.2)(2060,36.5)(2070,36.7)(2080,36.8)(2090,36.3)(2100,35.6)};
\addplot[sSOC] coordinates {(1960,29.8)(1965,31.5)(1970,33.2)(1975,34.8)(1980,35.8)(1985,36.5)(1990,37.2)(2000,37.5)(2010,37.8)(2020,38.0)(2030,38.3)(2040,38.5)(2050,38.5)(2060,38.2)(2070,37.0)(2080,35.5)(2090,33.5)(2100,32.0)};
\addplot[sULAQ] coordinates {(1960,33.0)(1970,34.5)(1980,35.5)(1990,36.0)(2000,36.5)(2010,36.8)(2020,37.0)(2030,37.3)(2040,37.6)(2050,38.0)(2060,38.3)(2070,38.6)(2080,38.8)(2090,38.4)(2100,37.9)};
\addplot[sUMSL] coordinates {(1960,36.5)(1965,36.8)(1970,36.8)(1975,36.5)(1980,35.8)(1985,35.3)(1990,35.0)(1995,34.7)(2000,34.8)(2010,34.9)(2020,35.2)(2030,35.5)(2040,35.8)(2050,36.2)(2060,36.5)(2070,36.8)(2080,37.0)(2090,36.9)(2100,37.1)};
\addplot[sUMUK] coordinates {(1960,33.5)(1970,34.8)(1980,35.5)(1990,35.8)(2000,36.2)(2010,36.4)(2020,36.8)(2030,37.2)(2040,37.5)(2050,37.8)(2060,38.0)(2070,38.3)(2080,38.6)(2090,38.3)(2100,37.7)};
\addplot[sMMM] coordinates {(1960,32.2)(1965,33.2)(1970,34.2)(1975,34.8)(1980,35.4)(1985,35.8)(1990,35.9)(1995,36.2)(2000,36.7)(2010,36.9)(2020,37.0)(2030,37.2)(2040,37.5)(2050,37.6)(2053,38.0)(2060,37.4)(2070,37.2)(2080,37.3)(2090,36.7)(2100,36.2)};
\addplot[sOBS] coordinates {(1979,35.5)(1980,35.5)(1981,35.3)(1982,35.1)(1983,35.5)(1984,35.6)(1985,35.8)(1986,35.4)(1987,35.6)(1988,35.9)(1989,35.8)(1990,35.6)(1991,35.2)(1992,35.0)(1993,34.8)(1994,35.4)(1995,35.6)(1996,35.7)(1997,35.9)(1998,35.8)(1999,36.0)(2000,35.9)(2001,36.0)(2002,35.7)(2003,35.8)(2004,36.0)(2005,36.1)(2006,35.9)(2007,36.2)(2008,36.1)(2009,35.8)(2010,36.3)(2011,36.4)(2012,36.2)(2013,36.3)(2014,36.0)};
\node[ttl] at (rel axis cs:0.183,0.917) {Global (annual)};
\end{axis}
\pgfresetboundingbox
\path[use as bounding box] (0,0) rectangle (501.5pt,-601.5pt);
\end{tikzpicture}
\end{document}
